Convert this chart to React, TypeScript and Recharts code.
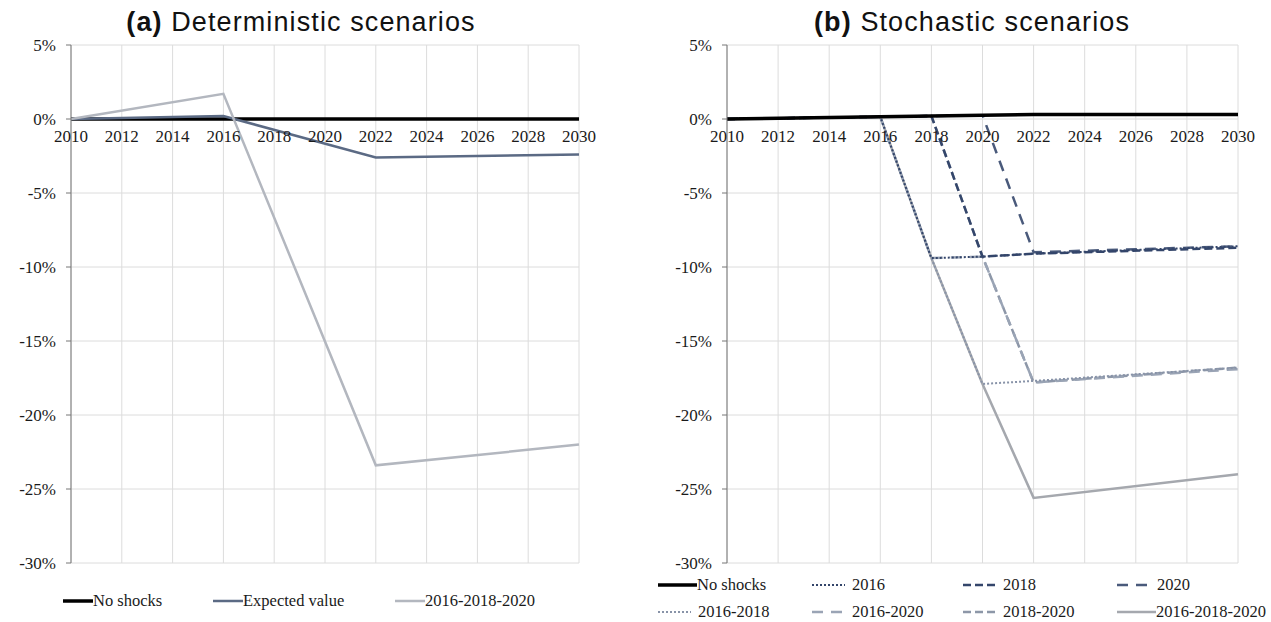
import React from 'react';
import { LineChart, Line, XAxis, YAxis, CartesianGrid } from 'recharts';

// shared axes
const yearTicks = [2010, 2012, 2014, 2016, 2018, 2020, 2022, 2024, 2026, 2028, 2030];
const pctTicks = [5, 0, -5, -10, -15, -20, -25, -30];

// (a) deterministic scenarios, % change
const detYears = [2010, 2016, 2022, 2030];
const detNoShocks = [0, 0, 0, 0];
const detExpected = [0, 0.2, -2.6, -2.4];
const detAllShocks = [0, 1.7, -23.4, -22.0];

// (b) stochastic scenarios, % change
const stoYears = [2010, 2016, 2018, 2020, 2022, 2030];
const stoNoShocks = [0, 0.15, 0.2, 0.25, 0.3, 0.3];
const sto2016 = [0, 0.15, -9.4, -9.3, -9.1, -8.6];
const sto2018 = [0, 0.15, 0.2, -9.3, -9.1, -8.7];
const sto2020 = [0, 0.15, 0.2, 0.25, -9.0, -8.6];
const sto2016_2018 = [0, 0.15, -9.4, -17.9, -17.7, -16.8];
const sto2016_2020 = [0, 0.15, -9.4, -9.3, -17.8, -16.9];
const sto2018_2020 = [0, 0.15, 0.2, -9.3, -17.8, -16.8];
const sto2016_2018_2020 = [0, 0.15, -9.4, -17.9, -25.6, -24.0];

type Series = { name: string; values: number[]; color: string; width: number; dash?: string };

const detSeries: Series[] = [
  { name: 'No shocks', values: detNoShocks, color: '#000000', width: 3.5 },
  { name: 'Expected value', values: detExpected, color: '#5b6a84', width: 2.5 },
  { name: '2016-2018-2020', values: detAllShocks, color: '#b3b7bf', width: 2.5 },
];

const stoSeries: Series[] = [
  { name: 'No shocks', values: stoNoShocks, color: '#000000', width: 3.5 },
  { name: '2016', values: sto2016, color: '#33456a', width: 2, dash: '2 2' },
  { name: '2018', values: sto2018, color: '#34466b', width: 2.5, dash: '8 4' },
  { name: '2020', values: sto2020, color: '#4a5a7b', width: 2.5, dash: '11 8' },
  { name: '2016-2018', values: sto2016_2018, color: '#8893a8', width: 2, dash: '2 2' },
  { name: '2016-2020', values: sto2016_2020, color: '#9aa4b5', width: 2.5, dash: '11 8' },
  { name: '2018-2020', values: sto2018_2020, color: '#8d97a8', width: 2.5, dash: '8 4' },
  { name: '2016-2018-2020', values: sto2016_2018_2020, color: '#a5a8ae', width: 2.5 },
];

const toPoints = (years: number[], vals: number[]) => years.map((year, i) => ({ year, v: vals[i] }));

const SERIF = '"Liberation Serif", "Times New Roman", serif';
const CHART_H = 622;
const PLOT_TOP = 45;
const PLOT_BOTTOM = 563;
const X_AXIS_H = 30;
const Y_MAX = 5;
const Y_MIN = -30;
const ZERO_Y = PLOT_TOP + ((PLOT_BOTTOM - PLOT_TOP) * Y_MAX) / (Y_MAX - Y_MIN);
const tickTextStyle: React.CSSProperties = { fontFamily: SERIF, fontSize: 17 };

// year labels sit under the 0% line, as in the Excel original
const renderYearTick = (props: any) => (
  <text x={props.x} y={ZERO_Y + 23} textAnchor="middle" fill="#1a1a1a" style={tickTextStyle}>
    {props.payload.value}
  </text>
);

const renderPctTick = (props: any) => (
  <text x={props.x} y={props.y + 6} textAnchor="end" fill="#1a1a1a" style={tickTextStyle}>
    {`${props.payload.value}%`}
  </text>
);

const Panel = ({ left, width, marginLeft, marginRight, years, series }: any) => (
  <div style={{ position: 'absolute', left, top: 0 }}>
    <LineChart
      width={width}
      height={CHART_H}
      margin={{ top: PLOT_TOP, right: marginRight, bottom: CHART_H - PLOT_BOTTOM - X_AXIS_H, left: marginLeft }}
    >
      <CartesianGrid stroke="#dcdcdc" strokeWidth={1} />
      <XAxis
        dataKey="year"
        type="number"
        domain={[2010, 2030]}
        ticks={yearTicks}
        interval={0}
        height={X_AXIS_H}
        axisLine={false}
        tickLine={false}
        tick={renderYearTick}
        allowDuplicatedCategory={false}
      />
      <YAxis
        type="number"
        domain={[Y_MIN, Y_MAX]}
        ticks={pctTicks}
        width={50}
        interval={0}
        axisLine={{ stroke: '#777' }}
        tickLine={{ stroke: '#777' }}
        tickSize={5}
        tickMargin={10}
        tick={renderPctTick}
      />
      {series.map((s: Series) => (
        <Line
          key={s.name}
          data={toPoints(years, s.values)}
          dataKey="v"
          name={s.name}
          type="linear"
          stroke={s.color}
          strokeWidth={s.width}
          strokeDasharray={s.dash}
          dot={false}
          activeDot={false}
          isAnimationActive={false}
        />
      ))}
    </LineChart>
  </div>
);

const LegendItem = ({ s, x, y, symbolW, gap }: any) => (
  <div style={{ position: 'absolute', left: x, top: y - 11, height: 22, display: 'flex', alignItems: 'center', whiteSpace: 'nowrap' }}>
    <svg width={symbolW} height={8}>
      <line x1={0} y1={4} x2={symbolW} y2={4} stroke={s.color} strokeWidth={s.width} strokeDasharray={s.dash} />
    </svg>
    <span style={{ marginLeft: gap, fontFamily: SERIF, fontSize: 16.5, color: '#1a1a1a' }}>{s.name}</span>
  </div>
);

const titleStyle: React.CSSProperties = {
  position: 'absolute',
  top: 7,
  textAlign: 'center',
  fontFamily: '"Liberation Sans", Arial, sans-serif',
  fontSize: 27,
  letterSpacing: 1.1,
  lineHeight: '30px',
  color: '#111',
};

const detLegendX = [63, 213, 395];
const stoLegendX = [658, 812, 963, 1117];
const stoLegendY = [585, 612];

export default function App() {
  return (
    <div style={{ position: 'absolute', left: 0, top: 0, width: 1271, height: 622, background: '#fff', overflow: 'hidden' }}>
      <div style={{ ...titleStyle, left: 0, width: 602 }}>
        <b>(a)</b> Deterministic scenarios
      </div>
      <div style={{ ...titleStyle, left: 700, width: 544 }}>
        <b>(b)</b> Stochastic scenarios
      </div>

      <Panel left={0} width={620} marginLeft={21} marginRight={41} years={detYears} series={detSeries} />
      {/* lighter combined shocks drawn first so the single-year lines stay on top */}
      <Panel left={640} width={631} marginLeft={37} marginRight={33} years={stoYears} series={[...stoSeries].reverse()} />

      {detSeries.map((s, i) => (
        <LegendItem key={s.name} s={s} x={detLegendX[i]} y={601} symbolW={30} gap={0} />
      ))}
      {stoSeries.map((s, i) => (
        <LegendItem
          key={s.name}
          s={s}
          x={stoLegendX[i % 4]}
          y={stoLegendY[Math.floor(i / 4)]}
          symbolW={i === 0 || i === 7 ? 39 : 33}
          gap={i === 0 || i === 7 ? 0 : 7}
        />
      ))}
    </div>
  );
}
